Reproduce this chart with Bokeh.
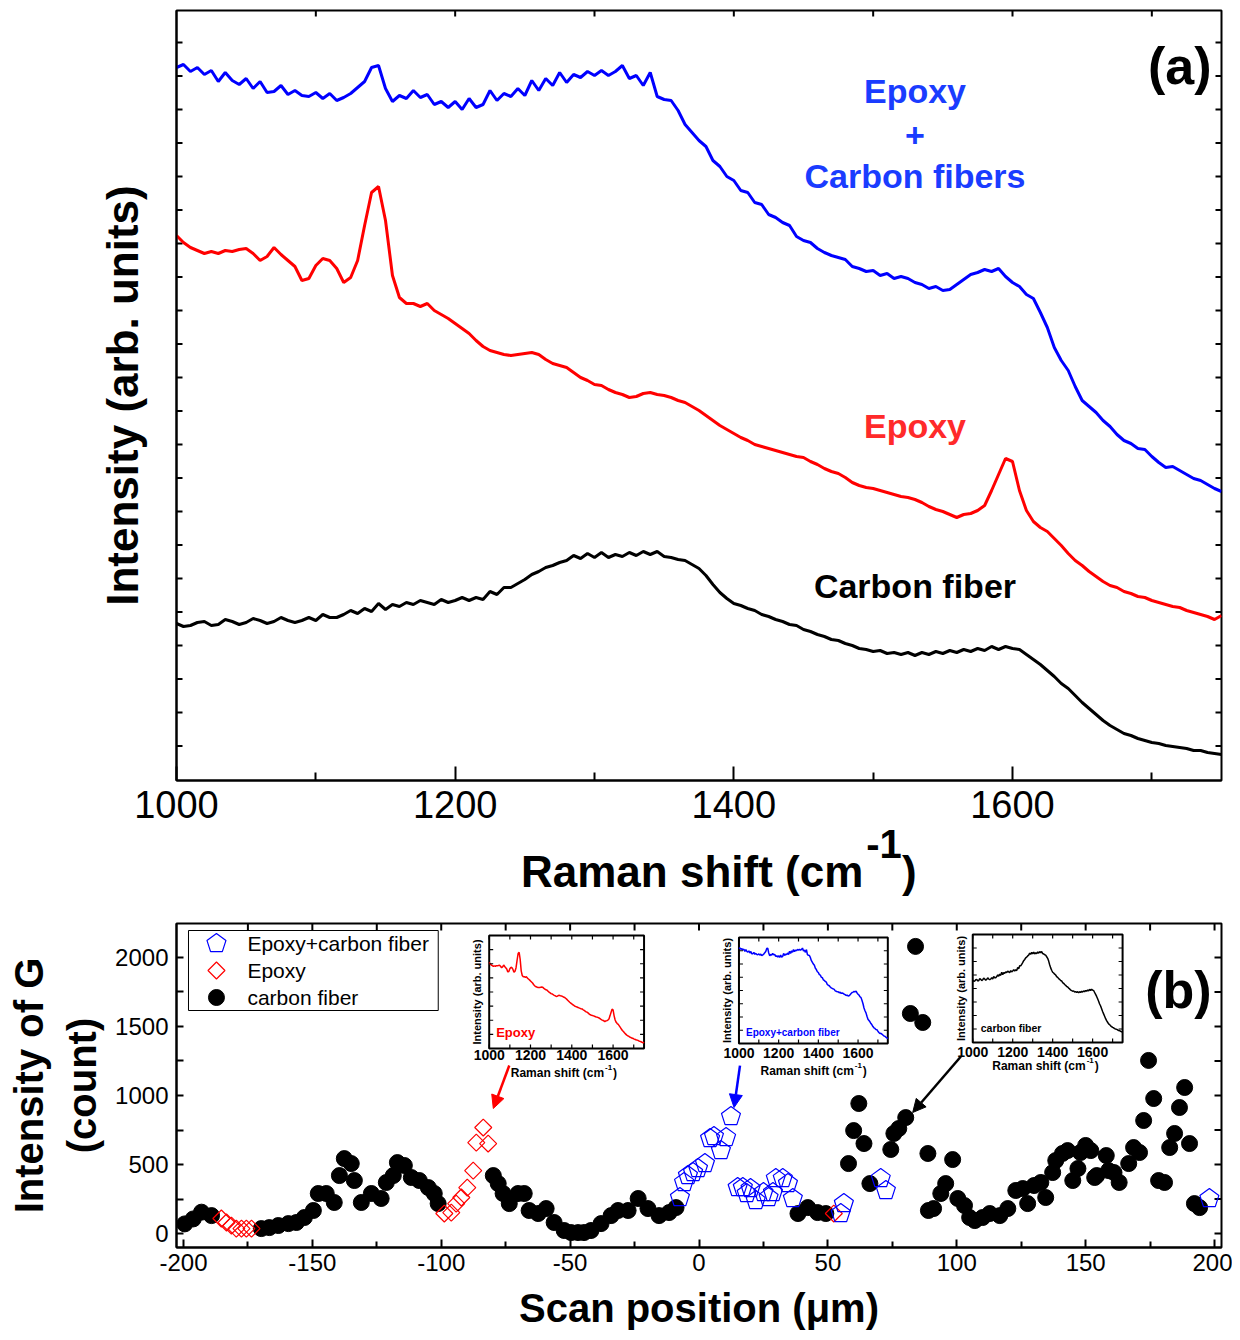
import numpy as np
from bokeh.plotting import figure
from bokeh.models import (Range1d, FixedTicker, Label, Arrow, NormalHead, Div)
from bokeh.layouts import column
from bokeh.embed import file_html
from bokeh.resources import INLINE
from bokeh.core.properties import value

FONT = "Liberation Sans"

# ---------------- data: panel (a) Raman spectra ----------------
raman_shift = list(range(1000, 1751, 5))

carbon_fiber_spectrum = [
    157, 154, 155, 158, 159, 155, 156, 161, 159, 156,
    158, 162, 160, 157, 159, 163, 160, 158, 160, 163,
    160, 166, 163, 163, 166, 170, 167, 172, 169, 177,
    171, 176, 174, 178, 176, 180, 178, 176, 181, 178,
    180, 183, 180, 183, 181, 189, 186, 193, 193, 197,
    201, 206, 209, 213, 215, 218, 220, 225, 222, 227,
    223, 228, 223, 226, 224, 228, 225, 229, 226, 229,
    224, 223, 221, 220, 216, 212, 205, 196, 188, 182,
    177, 175, 172, 170, 166, 164, 161, 159, 156, 155,
    151, 149, 146, 144, 141, 140, 137, 135, 132, 131,
    129, 130, 127, 128, 126, 128, 125, 128, 126, 129,
    127, 130, 128, 131, 129, 132, 130, 134, 131, 134,
    132, 131, 126, 121, 116, 110, 104, 97, 92, 85,
    78, 72, 66, 60, 55, 51, 47, 45, 42, 40,
    38, 37, 35, 34, 33, 32, 30, 30, 28, 27,
    26]

epoxy_spectrum = [
    545, 538, 533, 530, 527, 529, 527, 530, 529, 531,
    532, 527, 520, 524, 533, 526, 520, 514, 500, 502,
    515, 522, 520, 512, 498, 503, 520, 555, 588, 594,
    560, 505, 483, 477, 477, 474, 477, 470, 466, 462,
    457, 452, 447, 440, 434, 430, 428, 426, 425, 426,
    427, 428, 426, 421, 417, 415, 413, 408, 403, 400,
    396, 395, 391, 388, 386, 383, 384, 387, 388, 386,
    385, 383, 380, 378, 374, 370, 365, 360, 355, 351,
    347, 343, 340, 336, 334, 332, 330, 328, 326, 324,
    323, 319, 316, 312, 309, 307, 303, 298, 295, 293,
    292, 290, 288, 286, 284, 283, 281, 278, 274, 271,
    269, 266, 263, 266, 267, 270, 275, 290, 306, 322,
    319, 290, 270, 259, 253, 249, 242, 235, 227, 220,
    215, 209, 204, 199, 195, 193, 189, 187, 184, 183,
    180, 178, 176, 174, 173, 170, 168, 166, 164, 161,
    165]

epoxy_cf_spectrum = [
    713, 716, 709, 713, 706, 710, 699, 708, 700, 696,
    702, 692, 699, 688, 689, 695, 686, 690, 685, 684,
    688, 682, 687, 680, 683, 687, 693, 699, 713, 715,
    692, 679, 685, 682, 690, 683, 686, 676, 679, 673,
    679, 671, 682, 673, 676, 690, 680, 687, 684, 692,
    685, 700, 690, 702, 695, 708, 698, 706, 703, 709,
    705, 710, 705, 709, 715, 702, 705, 695, 708, 684,
    681, 680, 670, 656, 648, 640, 634, 620, 614, 604,
    600, 590, 588, 578, 576, 566, 563, 558, 555, 544,
    540, 538, 532, 528, 525, 523, 521, 514, 512, 509,
    510, 505, 507, 502, 504, 502, 498, 496, 492, 494,
    490, 491, 496, 501, 506, 508, 511, 509, 512, 504,
    498, 494, 486, 482, 468, 453, 433, 420, 410, 394,
    380, 374, 368, 360, 354, 346, 340, 337, 332, 331,
    324, 318, 313, 314, 310, 306, 302, 300, 296, 292,
    289]

# ---------------- data: panel (b) G-band intensity vs scan position ----------------
cf_pos = [-199.5, -196.2, -193, -189.1, -169.8, -166.7, -163.2, -159.3, -156.2, -153.1,
          -149.6, -147.7, -144.6, -141.5, -139.5, -137.6, -134.9, -133.7, -131, -127.1,
          -123.3, -121.3, -118.6, -117, -114.3, -111.6, -108.5, -105, -102.7, -101.2,
          -79.8, -77.9, -76, -73.6, -70.2, -67.8, -65.9, -62.4, -59.3, -56.2,
          -52.3, -49.6, -46.9, -44.6, -41.9, -38, -34.1, -31.4, -27.5, -23.6,
          -19.8, -15.5, -11.6, -8.9, 38.4, 42.2, 46, 49.2, 58, 60,
          62, 64, 66.3, 74.4, 75.6, 77.5, 80.2, 82, 84, 86.8,
          88.8, 89, 91, 93.8, 95.7, 98.4, 100.4, 103, 105, 107,
          110, 112.8, 116.7, 119.8, 122.9, 125.6, 127.5, 130, 132.6, 134.5,
          137.2, 138.4, 141, 143, 145, 147, 148, 150, 152, 153.5,
          154.3, 158, 158.9, 161, 163, 166.7, 168.6, 170.9, 172.5, 174.4,
          176.4, 178.3, 180.6, 182.6, 184.5, 186.4, 188.4, 190.3, 192.2, 194.2]
cf_G = [70, 106, 155, 130, 36, 43, 58, 72, 80, 116,
        167, 290, 290, 225, 420, 543, 507, 384, 225, 290,
        254, 370, 420, 514, 493, 406, 384, 333, 290, 217,
        420, 362, 290, 217, 290, 290, 167, 145, 181, 80,
        22, 7, 7, 7, 22, 72, 130, 167, 167, 254,
        181, 130, 152, 188, 145, 188, 152, 145, 507, 746,
        942, 652, 362, 609, 725, 761, 840, 1594, 2080, 1529,
        580, 167, 181, 290, 362, 536, 254, 203, 116, 94,
        116, 145, 130, 181, 312, 326, 217, 348, 370, 261,
        442, 529, 580, 601, 384, 471, 587, 638, 601, 406,
        420, 565, 456, 442, 370, 507, 623, 587, 819, 1254,
        978, 384, 370, 623, 725, 913, 1058, 652, 217, 188]

epoxy_pos = [-185.3, -183.3, -181.4, -179.5, -177.5, -175.6, -173.6,
             -98.8, -96.1, -94.2, -92.2, -89.9, -87.6, -86.4, -83.7, -81.8, 52.3]
epoxy_G = [109, 80, 58, 36, 36, 36, 36,
           145, 152, 217, 261, 333, 456, 659, 768, 652, 145]

ecf_pos = [-7.4, -5.8, -4.3, -2.3, -0.4, 2.3, 4.3, 5.8, 8.5, 10.5, 12.4,
           15, 17, 18.5, 20, 22, 25, 27, 28.7, 29.8, 32.5, 34.5, 36.4,
           55, 56.2, 70.5, 72.5, 198]
ecf_G = [261, 370, 420, 442, 471, 507, 688, 703, 601, 696, 848,
         333, 333, 290, 326, 239, 297, 261, 297, 399, 399, 362, 254,
         145, 217, 399, 312, 254]

legend_labels = ["Epoxy+carbon fiber", "Epoxy", "carbon fiber"]
scan_ticks = [-200, -150, -100, -50, 0, 50, 100, 150, 200]

# arrows from insets to points: (x_start, y_start, x_end, y_end)
arrow_red = (-73.6, 1217, -79.8, 906)
arrow_blue = (15.9, 1217, 13.6, 913)
arrow_black = (101.6, 1283, 82.9, 877)

RED = "#ff0000"
BLUE = "#0000ff"

# ---------------- layout constants ----------------
W = 1232
A_X = (1000, 1750); A_Y = (0, 770)
A_FRAME = (176, 1221, 10, 780)          # left, right, top, bottom (page px)
B_X = (-202.7, 202.7); B_Y = (-101, 2246)
B_FRAME = (175, 1221, 923, 1247)
A_H = 838
TITLE_H = 58
B_H = 442


def style_axis(ax, major_in, minor_in, label_size, width=2):
    ax.axis_line_width = 2
    ax.axis_line_color = "black"
    ax.major_tick_in = major_in
    ax.major_tick_out = 0
    ax.minor_tick_in = minor_in
    ax.minor_tick_out = 0
    ax.major_tick_line_width = width
    ax.minor_tick_line_width = width
    ax.major_tick_line_color = "black"
    ax.minor_tick_line_color = "black"
    ax.major_label_text_font_size = label_size
    ax.major_label_text_font = FONT
    ax.major_label_text_color = "black"


def frame_ticks(p, xr, yr, frame, positions, side, length, width=2):
    """inward tick marks on a frame side, lengths converted from px to data units"""
    L, R, T, B = frame
    ux = (xr[1] - xr[0]) / (R - L)
    uy = (yr[1] - yr[0]) / (B - T)
    n = len(positions)
    if side == "left":
        p.segment(x0=[xr[0]] * n, y0=positions, x1=[xr[0] + length * ux] * n, y1=positions,
                  line_color="black", line_width=width)
    elif side == "right":
        p.segment(x0=[xr[1]] * n, y0=positions, x1=[xr[1] - length * ux] * n, y1=positions,
                  line_color="black", line_width=width)
    elif side == "top":
        p.segment(x0=positions, y0=[yr[1]] * n, x1=positions, y1=[yr[1] - length * uy] * n,
                  line_color="black", line_width=width)


# ======================= panel (a) =======================
pa = figure(width=W, height=A_H, x_range=Range1d(*A_X), y_range=Range1d(*A_Y),
            output_backend="svg", toolbar_location=None,
            min_border_left=A_FRAME[0], min_border_right=W - A_FRAME[1],
            min_border_top=A_FRAME[2], min_border_bottom=A_H - A_FRAME[3])
pa.xgrid.visible = False
pa.ygrid.visible = False
pa.outline_line_color = "black"
pa.outline_line_width = 2

xa = pa.xaxis[0]
xa.ticker = FixedTicker(ticks=[1000, 1200, 1400, 1600], minor_ticks=[1100, 1300, 1500, 1700])
style_axis(xa, 14, 8, "38px")
xa.major_label_standoff = 10

ya = pa.yaxis[0]
ya.ticker = FixedTicker(ticks=[])
style_axis(ya, 0, 0, "38px")
ya.axis_label = "Intensity (arb. units)"
ya.axis_label_text_font = FONT
ya.axis_label_text_font_size = "44px"
ya.axis_label_text_font_style = "bold"
ya.axis_label_text_color = "black"
ya.axis_label_standoff = 30

side_ticks_a = list(np.arange(34.5, 770, 33.5))
frame_ticks(pa, A_X, A_Y, A_FRAME, side_ticks_a, "left", 6)
frame_ticks(pa, A_X, A_Y, A_FRAME, side_ticks_a, "right", 6)
frame_ticks(pa, A_X, A_Y, A_FRAME, list(range(1100, 1750, 100)), "top", 6)

pa.line(raman_shift, epoxy_cf_spectrum, line_color=BLUE, line_width=3)
pa.line(raman_shift, epoxy_spectrum, line_color=RED, line_width=3)
pa.line(raman_shift, carbon_fiber_spectrum, line_color="black", line_width=3)


def add_text(p, x, y, text, size, color, align="center"):
    p.add_layout(Label(x=x, y=y, text=text, text_font=FONT, text_font_size=size,
                       text_font_style="bold", text_color=color,
                       text_align=align, text_baseline="middle"))


add_text(pa, 1530, 690, "Epoxy", "34px", "#1a3cff")
add_text(pa, 1530, 645, "+", "34px", "#1a3cff")
add_text(pa, 1530, 605, "Carbon fibers", "34px", "#1a3cff")
add_text(pa, 1530, 355, "Epoxy", "34px", "#ff2a2a")
add_text(pa, 1530, 195, "Carbon fiber", "34px", "black")
add_text(pa, 1720, 715, "(a)", "52px", "black")

# x axis title of panel (a) with a real superscript
title_a = Div(width=W, height=TITLE_H, margin=0, text=(
    "<div style=\"font-family:'Liberation Sans'; font-size:44px; font-weight:bold; color:black;"
    " white-space:nowrap; line-height:44px; padding-left:521px; padding-top:12px;\">"
    "Raman shift (cm<span style=\"position:relative; top:-29px; font-size:40px; margin-left:3px;\">-1</span>)"
    "</div>"))

# ======================= panel (b) =======================
pb = figure(width=W, height=B_H, x_range=Range1d(*B_X), y_range=Range1d(*B_Y),
            output_backend="svg", toolbar_location=None,
            min_border_left=B_FRAME[0], min_border_right=W - B_FRAME[1],
            min_border_top=B_FRAME[2] - A_H - TITLE_H,
            min_border_bottom=A_H + TITLE_H + B_H - B_FRAME[3])
pb.xgrid.visible = False
pb.ygrid.visible = False
pb.outline_line_color = "black"
pb.outline_line_width = 2

xb = pb.xaxis[0]
xb.ticker = FixedTicker(ticks=scan_ticks, minor_ticks=list(range(-175, 200, 50)))
xb.major_label_overrides = {t: str(t) for t in scan_ticks}
style_axis(xb, 8, 6, "24px")
xb.major_label_standoff = 6
xb.axis_label = "Scan position (\u03bcm)"
xb.axis_label_text_font = FONT
xb.axis_label_text_font_size = "40px"
xb.axis_label_text_font_style = "bold"
xb.axis_label_text_color = "black"
xb.axis_label_standoff = 12

yb = pb.yaxis[0]
yb.ticker = FixedTicker(ticks=list(range(0, 2001, 500)), minor_ticks=list(range(250, 2001, 500)))
style_axis(yb, 7, 7, "24px")
yb.major_label_standoff = 8
yb.axis_label = "Intensity of G\n(count)"
yb.axis_label_text_font = FONT
yb.axis_label_text_font_size = "40px"
yb.axis_label_text_font_style = "bold"
yb.axis_label_text_color = "black"
yb.axis_label_standoff = 8

frame_ticks(pb, B_X, B_Y, B_FRAME, list(range(0, 2246, 250)), "right", 7)
frame_ticks(pb, B_X, B_Y, B_FRAME, list(range(-175, 201, 25)), "top", 7)

pb.scatter(cf_pos, cf_G, marker="circle", size=16, fill_color="black", line_color="black")
pb.scatter(epoxy_pos, epoxy_G, marker="square", angle=np.pi / 4, size=12,
           fill_color=None, line_color=RED, line_width=1.2)
pb.ngon(ecf_pos, ecf_G, radius=10, radius_units="screen", n=5,
        fill_color=None, line_color=BLUE, line_width=1.2)

for (x0, y0, x1, y1), col in [(arrow_red, RED), (arrow_blue, BLUE), (arrow_black, "black")]:
    pb.add_layout(Arrow(x_start=x0, y_start=y0, x_end=x1, y_end=y1, line_color=col, line_width=2.5,
                        end=NormalHead(size=13, fill_color=col, line_color=col)))

# ---------- insets (drawn through their own ranges) ----------
insets = [
    dict(key="i1", box=(488, 643, 935, 1048), yr=(134, 674), spec=epoxy_spectrum, color=RED,
         name="Epoxy", name_size="13px", name_off=(7, -16), anchor=603, title_off=24, tick_off=6),
    dict(key="i2", box=(738, 887, 937, 1043), yr=(266, 765), spec=epoxy_cf_spectrum, color=BLUE,
         name="Epoxy+carbon fiber", name_size="10px", name_off=(7, -11), anchor=853, title_off=27, tick_off=9),
    dict(key="i3", box=(972, 1122, 934, 1042), yr=(0, 272), spec=carbon_fiber_spectrum, color="black",
         name="carbon fiber", name_size="10.5px", name_off=(8, -15), anchor=1085, title_off=23, tick_off=9),
]
FL, FR, FT, FB = B_FRAME
inset_xticks = [1000, 1200, 1400, 1600]
inset_xminor = [1100, 1300, 1500, 1700]
for ins in insets:
    L, R, T, B = ins["box"]
    y0, y1 = ins["yr"]
    ux = 750.0 / (R - L)
    uy = (y1 - y0) / (B - T)
    xr = ins["key"] + "x"
    yr = ins["key"] + "y"
    pb.extra_x_ranges[xr] = Range1d(1000 - (L - FL) * ux, 1000 + (FR - L) * ux)
    pb.extra_y_ranges[yr] = Range1d(y0 - (FB - B) * uy, y1 + (T - FT) * uy)
    kw = dict(x_range_name=xr, y_range_name=yr)
    pb.quad(left=[1000], right=[1750], bottom=[y0], top=[y1], fill_color="white",
            line_color="black", line_width=2, **kw)
    pb.line(raman_shift, ins["spec"], line_color=ins["color"], line_width=1.5, **kw)
    tl = 4
    allx = inset_xticks + inset_xminor
    pb.segment(x0=allx, y0=[y0] * 8, x1=allx, y1=[y0 + tl * uy] * 8, line_color="black", line_width=1.2, **kw)
    pb.segment(x0=allx, y0=[y1] * 8, x1=allx, y1=[y1 - tl * uy] * 8, line_color="black", line_width=1.2, **kw)
    yt = [y0 + (y1 - y0) * k / 8 for k in range(1, 8)]
    pb.segment(x0=[1000] * 7, y0=yt, x1=[1000 + tl * ux] * 7, y1=yt, line_color="black", line_width=1.2, **kw)
    pb.segment(x0=[1750] * 7, y0=yt, x1=[1750 - tl * ux] * 7, y1=yt, line_color="black", line_width=1.2, **kw)
    pb.text(x=inset_xticks, y=[y0] * 4, text=[str(t) for t in inset_xticks], text_align="center",
            text_baseline="middle", y_offset=ins["tick_off"], text_font=value(FONT),
            text_font_size="14px", text_font_style="bold", text_color="black", **kw)
    ax_x = 1000 + (ins["anchor"] - L) * ux
    pb.text(x=[ax_x], y=[y0], text=["Raman shift (cm"], text_align="right", text_baseline="middle",
            y_offset=ins["title_off"], text_font=value(FONT), text_font_size="12px",
            text_font_style="bold", text_color="black", **kw)
    pb.text(x=[ax_x], y=[y0], text=["-1"], text_align="left", text_baseline="middle",
            x_offset=1, y_offset=ins["title_off"] - 5, text_font=value(FONT), text_font_size="8px",
            text_font_style="bold", text_color="black", **kw)
    pb.text(x=[ax_x], y=[y0], text=[")"], text_align="left", text_baseline="middle",
            x_offset=9, y_offset=ins["title_off"], text_font=value(FONT), text_font_size="12px",
            text_font_style="bold", text_color="black", **kw)
    pb.text(x=[1000], y=[(y0 + y1) / 2], text=["Intensity (arb. units)"], angle=np.pi / 2,
            text_align="center", text_baseline="middle", x_offset=-12, text_font=value(FONT),
            text_font_size="11px", text_font_style="bold", text_color="black", **kw)
    pb.text(x=[1000], y=[y0], text=[ins["name"]], text_align="left", text_baseline="middle",
            x_offset=ins["name_off"][0], y_offset=ins["name_off"][1], text_font=value(FONT),
            text_font_size=ins["name_size"], text_font_style="bold", text_color=ins["color"], **kw)

add_text(pb, 186, 1761, "(b)", "52px", "black")

# ---------- legend box (page px -> data units of panel b) ----------
bux = (B_X[1] - B_X[0]) / (B_FRAME[1] - B_FRAME[0])
buy = (B_Y[1] - B_Y[0]) / (B_FRAME[3] - B_FRAME[2])
def bx(px): return B_X[0] + (px - B_FRAME[0]) * bux
def by(py): return B_Y[0] + (B_FRAME[3] - py) * buy

leg_rows = [by(943), by(970), by(997)]
pb.quad(left=[bx(187)], right=[bx(437)], bottom=[by(1010)], top=[by(930)],
        fill_color="white", line_color="black", line_width=1)
pb.ngon([bx(215)], [leg_rows[0]], radius=10, radius_units="screen", n=5,
        fill_color=None, line_color=BLUE, line_width=1.2)
pb.scatter([bx(215)], [leg_rows[1]], marker="square", angle=np.pi / 4, size=12,
           fill_color=None, line_color=RED, line_width=1.2)
pb.scatter([bx(215)], [leg_rows[2]], marker="circle", size=16, fill_color="black", line_color="black")
pb.text(x=[bx(246)] * 3, y=leg_rows, text=legend_labels, text_align="left", text_baseline="middle",
        text_font=value(FONT), text_font_size="21px", text_color="black")

layout = column(pa, title_a, pb, spacing=0)
open("out.html", "w").write(file_html(layout, INLINE))
